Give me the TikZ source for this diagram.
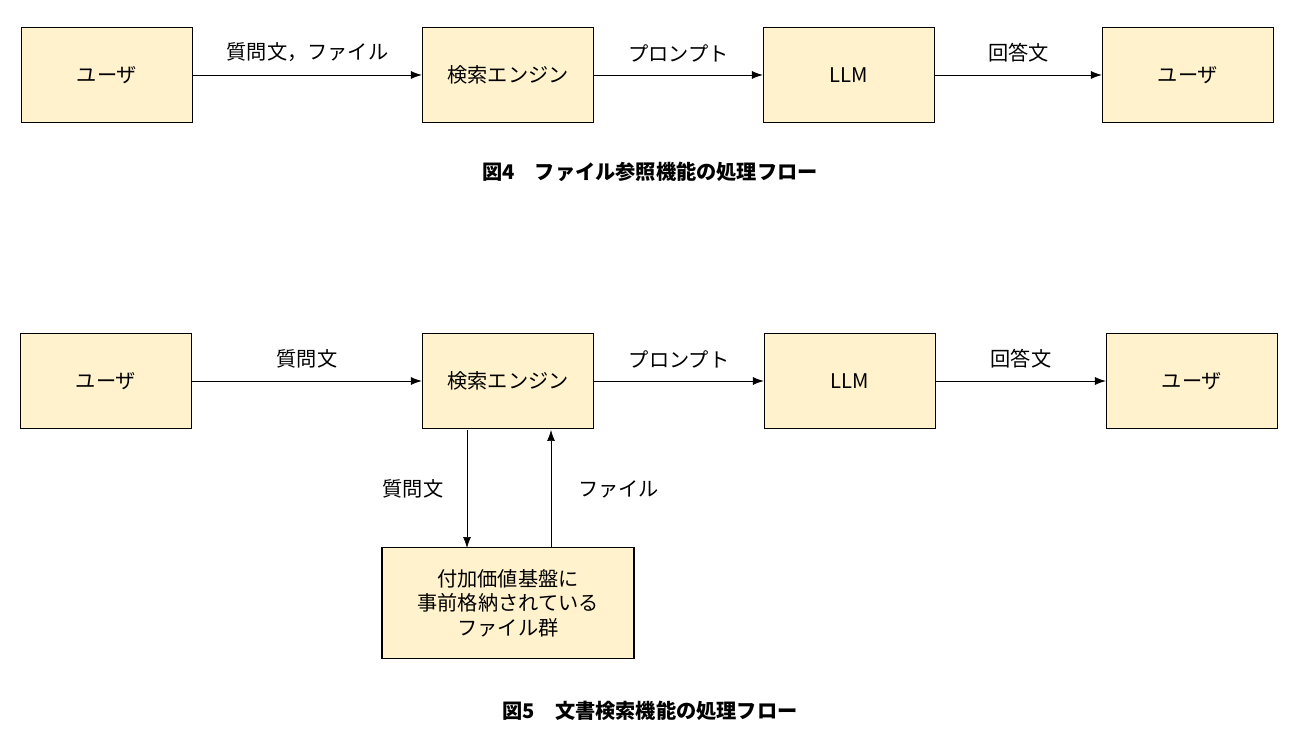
\documentclass[tikz,border=0pt]{standalone}
\usepackage{fontspec}
\setmainfont{Noto Sans CJK JP}
\usepackage[HTML]{xcolor}
\usetikzlibrary{positioning, arrows.meta}
\definecolor{boxfill}{HTML}{FFF2CC}
\begin{document}
\begin{tikzpicture}[x=0.02cm, y=-0.02cm, font=\fontsize{11.5}{14}\selectfont]
\tikzset{
  box/.style={draw, thick, fill=boxfill, minimum width=3.42cm, minimum height=1.9cm, inner sep=0pt, align=center},
  flow/.style={-{Latex[length=2.2mm, width=1.6mm]}},
  figcap/.style={font=\fontsize{11.5}{14}\selectfont\bfseries}
}
\useasboundingbox (0,0) rectangle (1300,739);

% Figure 4
\node[box] (u1) at (107,75) {ユーザ};
\node[box] (s1) at (508,75) {検索エンジン};
\node[box] (l1) at (849,75) {LLM};
\node[box] (v1) at (1188,75) {ユーザ};
\draw[flow] (u1) -- node[above=4pt] {質問文，ファイル} (s1);
\draw[flow] (s1) -- node[above=4pt] {プロンプト} (l1);
\draw[flow] (l1) -- node[above=4pt] {回答文} (v1);
\node[figcap] (c4) at (650,172) {図4\quad ファイル参照機能の処理フロー};

% Figure 5
\node[box] (u2) at (106,381) {ユーザ};
\node[box] (s2) at (508,381) {検索エンジン};
\node[box] (l2) at (850,381) {LLM};
\node[box] (v2) at (1192,381) {ユーザ};
\draw[flow] (u2) -- node[above=4pt] {質問文} (s2);
\draw[flow] (s2) -- node[above=4pt] {プロンプト} (l2);
\draw[flow] (l2) -- node[above=4pt] {回答文} (v2);
\node[box, minimum width=5.04cm, minimum height=2.22cm] (f2) at (508,603) {付加価値基盤に\\事前格納されている\\ファイル群};
\coordinate (sd) at (467,430);
\coordinate (fd) at (467,548);
\coordinate (fu) at (551,548);
\coordinate (su) at (551,430);
\draw[flow] (sd) -- node[left=10pt] {質問文} (fd);
\draw[flow] (fu) -- node[right=12pt] {ファイル} (su);
\node[figcap] (c5) at (650,711) {図5\quad 文書検索機能の処理フロー};
\end{tikzpicture}
\end{document}
